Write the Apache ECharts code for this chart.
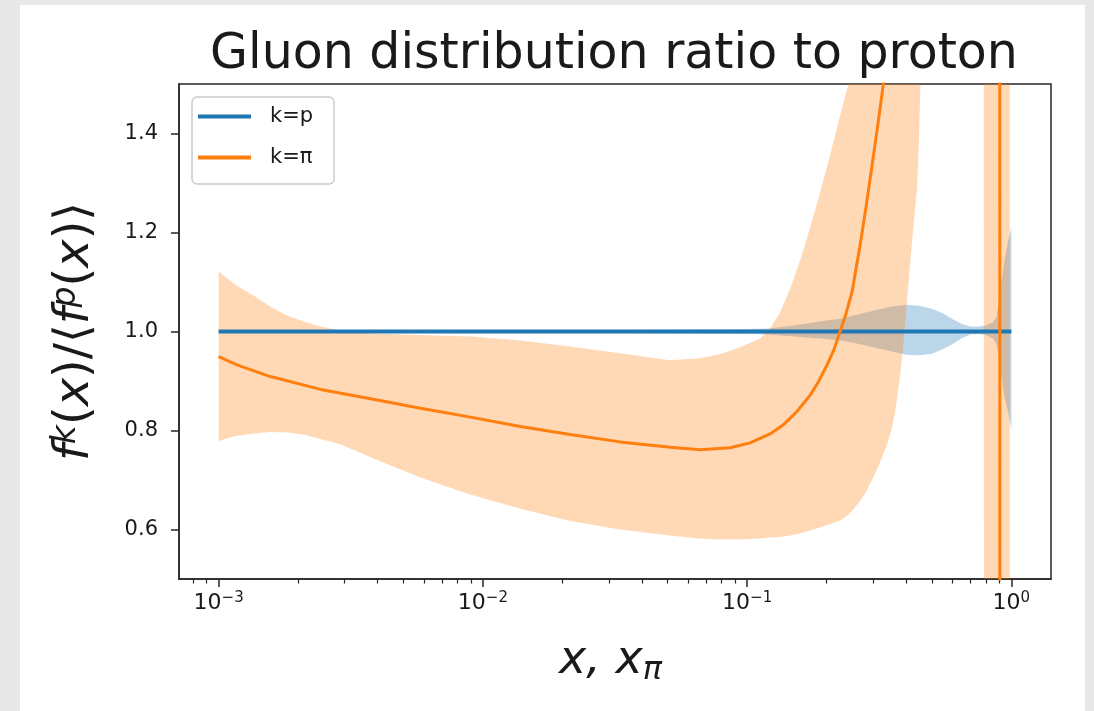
<!DOCTYPE html>
<html><head><meta charset="utf-8">
<script src="https://cdn.jsdelivr.net/npm/echarts@6/dist/echarts.min.js"></script>
<style>
html,body{margin:0;padding:0;background:#e8e8e8;width:1094px;height:711px;overflow:hidden}
#panel{position:absolute;left:20px;top:5px;width:1065px;height:706px;background:#fff}
#chart{position:absolute;left:0;top:0;width:1094px;height:711px}
</style></head><body>
<div id="panel"></div><div id="chart"></div>
<script>
// ---------------- data ----------------
const titleText = 'Gluon distribution ratio to proton';
const seriesNames = ['k=p', 'k=π'];
const xTickExponents = [-3, -2, -1, 0];
const yTickValues = [0.6, 0.8, 1.0, 1.2, 1.4];

// proton (reference) central line and band
const blueLineX = [0.001, 0.01, 0.1, 1.0];
const blueLineY = [1.0, 1.0, 1.0, 1.0];
const blueBandX = [0.001, 0.01, 0.03, 0.06, 0.1, 0.12, 0.15, 0.2, 0.225, 0.25, 0.3, 0.35, 0.4, 0.45, 0.5, 0.55, 0.6, 0.65, 0.7, 0.75, 0.8, 0.85, 0.88, 0.9, 0.94, 0.97, 0.99, 1.0];
const blueBandUpper = [1.003, 1.003, 1.003, 1.004, 1.005, 1.006, 1.012, 1.022, 1.026, 1.032, 1.042, 1.050, 1.054, 1.052, 1.046, 1.037, 1.025, 1.015, 1.010, 1.010, 1.012, 1.018, 1.03, 1.07, 1.14, 1.18, 1.20, 1.21];
const blueBandLower = [0.997, 0.997, 0.997, 0.996, 0.995, 0.994, 0.990, 0.985, 0.982, 0.978, 0.968, 0.960, 0.953, 0.952, 0.955, 0.964, 0.975, 0.987, 0.994, 0.995, 0.993, 0.986, 0.975, 0.94, 0.87, 0.84, 0.815, 0.80];

// pion central line and band
const orangeLineX = [0.001, 0.00118, 0.00157, 0.00243, 0.00376, 0.00581, 0.00897, 0.01386, 0.0214, 0.0331, 0.0512, 0.0664, 0.0863, 0.1026, 0.1222, 0.1367, 0.1455, 0.1546, 0.173, 0.1855, 0.2005, 0.2133, 0.2248, 0.2367, 0.2495, 0.2583, 0.2675, 0.2818, 0.2993, 0.3128, 0.3266, 0.35, 0.4, 0.6, 0.903, 0.906, 1.0];
const orangeLineY = [0.949, 0.932, 0.909, 0.883, 0.864, 0.845, 0.827, 0.808, 0.792, 0.777, 0.766, 0.761, 0.765, 0.775, 0.793, 0.811, 0.825, 0.839, 0.871, 0.897, 0.932, 0.964, 1.000, 1.036, 1.080, 1.127, 1.173, 1.251, 1.348, 1.420, 1.494, 1.66, 2.1, 3.0, 3.0, -1.0, -1.0];
const orangeBandX = [0.001, 0.00116, 0.00136, 0.00157, 0.00182, 0.0021, 0.00243, 0.00289, 0.0038, 0.0058, 0.009, 0.0139, 0.021, 0.033, 0.051, 0.066, 0.079, 0.094, 0.112, 0.122, 0.133, 0.1455, 0.1585, 0.173, 0.1888, 0.206, 0.2248, 0.2418, 0.26, 0.2793, 0.3, 0.3183, 0.338, 0.3533, 0.366, 0.3789, 0.3889, 0.3958, 0.4062, 0.4169, 0.428, 0.4392, 0.4469, 0.4529, 0.47, 0.6, 0.785, 0.789, 0.984, 0.987, 1.0];
const orangeBandUpper = [1.121, 1.094, 1.072, 1.050, 1.032, 1.020, 1.010, 1.002, 0.996, 0.993, 0.990, 0.982, 0.970, 0.956, 0.942, 0.946, 0.954, 0.968, 0.986, 1.006, 1.038, 1.086, 1.143, 1.209, 1.281, 1.356, 1.436, 1.50, 1.6, 1.75, 1.9, 2.0, 2.2, 2.3, 2.4, 2.5, 2.6, 2.6, 2.7, 2.8, 2.8, 2.9, 3.0, 3.0, 3.0, 3.0, 3.0, 3.0, 3.0, -1.0, -1.0];
const orangeBandLower = [0.779, 0.789, 0.794, 0.797, 0.796, 0.792, 0.783, 0.772, 0.745, 0.705, 0.670, 0.642, 0.618, 0.600, 0.588, 0.582, 0.580, 0.580, 0.582, 0.584, 0.585, 0.588, 0.592, 0.598, 0.604, 0.611, 0.618, 0.630, 0.649, 0.672, 0.705, 0.735, 0.771, 0.805, 0.849, 0.910, 0.966, 1.012, 1.086, 1.157, 1.223, 1.287, 1.388, 1.498, 1.8, 2.5, 2.5, -1.0, -1.0, -1.5, -1.5];

// ---------------- chart ----------------
const FONT = 'DejaVu Sans';
const TXT = '#1a1a1a';
const AX = '#262626';
const LX = v => Math.log10(v);
const X_MIN = -3.15, X_MAX = 0.15;

const minorTicks = [];
for (let e = -4; e <= 0; e++) {
  for (let k = 2; k <= 9; k++) {
    const v = LX(k * Math.pow(10, e));
    if (v > X_MIN && v < X_MAX) minorTicks.push(v);
  }
}
const pairs = (xs, ys) => xs.map((x, i) => [LX(x), ys[i]]);

function bandRenderer(xs, up, lo, fill) {
  return function (params, api) {
    const pts = [];
    for (let i = 0; i < xs.length; i++) pts.push(api.coord([LX(xs[i]), up[i]]));
    for (let i = xs.length - 1; i >= 0; i--) pts.push(api.coord([LX(xs[i]), lo[i]]));
    return { type: 'polygon', shape: { points: pts }, style: { fill: fill } };
  };
}

const chart = echarts.init(document.getElementById('chart'), null, { renderer: 'canvas' });
chart.setOption({
  backgroundColor: 'transparent',
  animation: false,
  textStyle: { fontFamily: FONT },
  title: {
    text: titleText, left: 609, top: 26, textAlign: 'center',
    textStyle: { fontSize: 49, fontWeight: 'normal', color: TXT, fontFamily: FONT }
  },
  legend: {
    data: seriesNames, orient: 'vertical', left: 192, top: 97,
    icon: 'rect', itemWidth: 53, itemHeight: 4, itemGap: 20,
    padding: [9, 21, 16, 6],
    borderColor: '#cccccc', borderWidth: 1.5, borderRadius: 5,
    backgroundColor: 'rgba(255,255,255,0.8)',
    formatter: n => '{g| }{t|' + n + '}',
    textStyle: {
      rich: {
        g: { width: 14 },
        t: { fontSize: 21, color: TXT, fontFamily: FONT }
      }
    }
  },
  grid: {
    left: 179, top: 84, right: 43, bottom: 132,
    show: true, borderColor: AX, borderWidth: 1.5, backgroundColor: 'transparent',
    outerBoundsMode: 'none'
  },
  xAxis: [{
    type: 'value', min: X_MIN, max: X_MAX, position: 'bottom',
    axisLine: { show: true, onZero: false, lineStyle: { color: AX, width: 1.5 } },
    axisTick: { show: true, customValues: xTickExponents, length: 8, lineStyle: { color: AX, width: 1.5 } },
    axisLabel: {
      customValues: xTickExponents, margin: 12,
      formatter: v => '{b|10}{s|' + (v < 0 ? '\u2212' + Math.abs(v) : String(v)) + '}',
      rich: {
        b: { fontSize: 22, color: TXT, fontFamily: FONT },
        s: { fontSize: 15, color: TXT, fontFamily: FONT, padding: [0, 0, 10, 0] }
      }
    },
    splitLine: { show: false },
    name: '{i|x, x}{b|π}', nameLocation: 'middle', nameGap: 56,
    nameTextStyle: {
      padding: [0, 9, 0, 0],
      rich: {
        i: { fontSize: 46, fontStyle: 'italic', color: TXT, fontFamily: FONT },
        b: { fontSize: 32, fontStyle: 'italic', color: TXT, fontFamily: FONT, padding: [20, 0, 0, 0] }
      }
    }
  }, {
    type: 'value', min: X_MIN, max: X_MAX, position: 'bottom',
    axisLine: { show: false, onZero: false },
    axisTick: { show: true, customValues: minorTicks, length: 4.5, lineStyle: { color: AX, width: 1.2 } },
    axisLabel: { show: false },
    splitLine: { show: false }
  }],
  yAxis: {
    type: 'value', min: 0.5, max: 1.5,
    axisLine: { show: true, onZero: false, lineStyle: { color: AX, width: 1.5 } },
    axisTick: { show: true, customValues: yTickValues, length: 8, lineStyle: { color: AX, width: 1.5 } },
    axisLabel: {
      customValues: yTickValues, margin: 21, fontSize: 21, color: TXT, fontFamily: FONT,
      formatter: v => Number(v).toFixed(1)
    },
    splitLine: { show: false },
    name: '{i|f}{s|k}{n|(}{i|x}{n|)/⟨}{i|f}{s|p}{n|(}{i|x}{n|)⟩}',
    nameLocation: 'middle', nameGap: 78,
    nameTextStyle: {
      rich: {
        i: { fontSize: 48, fontStyle: 'italic', color: TXT, fontFamily: FONT },
        n: { fontSize: 48, color: TXT, fontFamily: FONT },
        s: { fontSize: 33, fontStyle: 'italic', color: TXT, fontFamily: FONT, padding: [0, 0, 18, 0] }
      }
    }
  },
  series: [
    {
      type: 'custom', name: 'k=p band', clip: true, silent: true,
      data: [[LX(blueBandX[0]), blueBandUpper[0]]],
      renderItem: bandRenderer(blueBandX, blueBandUpper, blueBandLower, 'rgba(31,119,180,0.3)')
    },
    {
      type: 'custom', name: 'k=π band', clip: true, silent: true,
      data: [[LX(orangeBandX[0]), orangeBandUpper[0]]],
      renderItem: bandRenderer(orangeBandX, orangeBandUpper, orangeBandLower, 'rgba(255,127,14,0.3)')
    },
    {
      type: 'line', name: seriesNames[0], data: pairs(blueLineX, blueLineY),
      showSymbol: false, symbol: 'none', clip: true,
      lineStyle: { color: '#1f77b4', width: 4 }, itemStyle: { color: '#1f77b4' }
    },
    {
      type: 'line', name: seriesNames[1], data: pairs(orangeLineX, orangeLineY),
      showSymbol: false, symbol: 'none', clip: true,
      lineStyle: { color: '#ff7f0e', width: 3 }, itemStyle: { color: '#ff7f0e' }
    }
  ]
});
</script>
</body></html>
